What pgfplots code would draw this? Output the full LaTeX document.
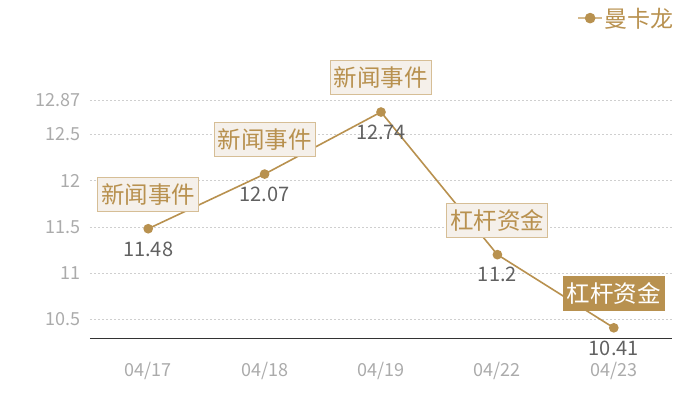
\documentclass[border=0pt]{standalone}
\usepackage{fontspec}
\setmainfont{Noto Sans CJK SC}
\usepackage{pgfplots}
\pgfplotsset{compat=1.18}
\definecolor{gold}{HTML}{B8914F}
\definecolor{goldlight}{HTML}{D4B98C}
\definecolor{boxfill}{HTML}{F5F0EA}
\definecolor{boxedge}{HTML}{D6BE96}
\definecolor{tickgray}{HTML}{ABABAB}
\definecolor{valgray}{HTML}{616161}
\definecolor{gridgray}{HTML}{CFCFCF}

\begin{document}
\begin{tikzpicture}
\path[use as bounding box] (0,0) rectangle (700bp,400bp);
\begin{axis}[
    at={(90bp,62bp)}, anchor=south west,
    scale only axis, width=582bp, height=238bp,
    clip=false,
    xmin=-0.5, xmax=4.5, ymin=10.3, ymax=12.87,
    xtick={0,1,2,3,4},
    xticklabels={04/17,04/18,04/19,04/22,04/23},
    ytick={10.5,11,11.5,12,12.5,12.87},
    yticklabels={10.5,11,11.5,12,12.5,12.87},
    axis x line*=bottom, axis y line*=left,
    x axis line style={draw=black!80, line width=0.8bp, -},
    y axis line style={draw=none},
    major tick length=0pt,
    ymajorgrids,
    grid style={gridgray, dash pattern=on 2bp off 2bp, line width=0.6bp},
    ticklabel style={font=\fontsize{18bp}{20bp}\selectfont, text=tickgray},
    yticklabel style={anchor=east, inner sep=0pt, xshift=-9bp},
    xticklabel style={anchor=north, inner sep=0pt, yshift=-24bp},
    legend style={at={(1.007,1.344)}, anchor=east, draw=none, fill=none,
        inner sep=0pt, font=\fontsize{23bp}{26bp}\selectfont, text=gold,
        legend cell align=left},
    legend image code/.code={
        \draw[goldlight, line width=1.5bp] (-2bp,0bp) -- (22bp,0bp);
        \fill[gold] (10bp,0bp) circle (4.5bp);
    },
]
% main series with value labels
\addplot[gold, line width=1.6bp, mark=*, mark size=4bp,
    mark options={fill=gold, draw=gold},
    point meta=explicit symbolic, nodes near coords,
    nodes near coords style={anchor=north, inner sep=0pt, yshift=-12bp,
        text=valgray, font=\fontsize{20bp}{22bp}\selectfont}]
table[meta=lab] {
x y lab
0 11.48 11.48
1 12.07 12.07
2 12.74 12.74
3 11.2 11.2
4 10.41 10.41
};
\addlegendentry{曼卡龙}
% event markers
\addplot[draw=none, mark=none, forget plot,
    point meta=explicit symbolic, nodes near coords,
    nodes near coords style={anchor=center, yshift=34.5bp,
        fill=boxfill, draw=boxedge, line width=1bp, text=gold,
        inner xsep=3.5bp, inner ysep=0pt, minimum height=34bp,
        font=\fontsize{23.5bp}{26bp}\selectfont}]
table[meta=lab] {
x y lab
0 11.48 新闻事件
1 12.07 新闻事件
2 12.74 新闻事件
3 11.2 杠杆资金
};
\addplot[draw=none, mark=none, forget plot,
    point meta=explicit symbolic, nodes near coords,
    nodes near coords style={anchor=center, yshift=34.5bp,
        fill=gold, draw=gold, line width=1bp, text=white,
        inner xsep=3.5bp, inner ysep=0pt, minimum height=34bp,
        font=\fontsize{23.5bp}{26bp}\selectfont}]
table[meta=lab] {
x y lab
4 10.41 杠杆资金
};
\end{axis}
\end{tikzpicture}
\end{document}
